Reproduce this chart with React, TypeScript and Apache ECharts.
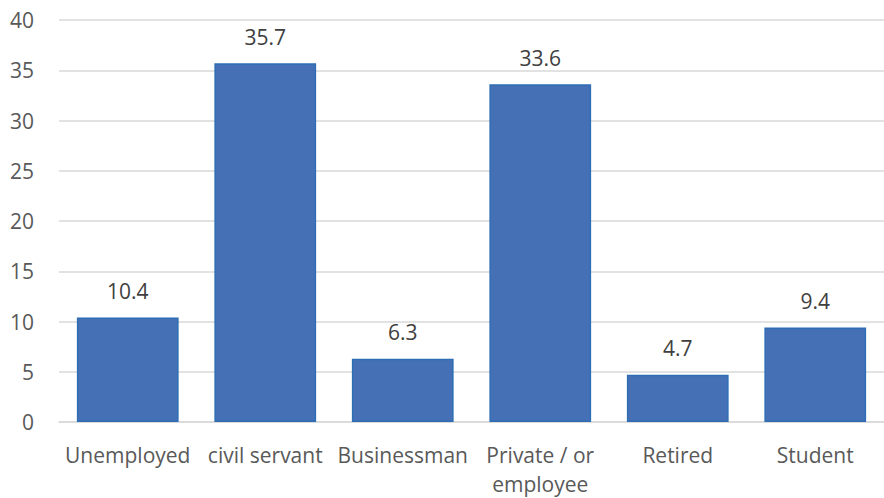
import React, { useEffect, useRef } from "react";
import * as echarts from "echarts";

const categories = ["Unemployed", "civil servant", "Businessman", "Private / or\nemployee", "Retired", "Student"];
const values = [10.4, 35.7, 6.3, 33.6, 4.7, 9.4];
const yTicks = { min: 0, max: 40, interval: 5 };

export default function App() {
  const ref = useRef<HTMLDivElement>(null);
  useEffect(() => {
    if (!ref.current) return;
    const chart = echarts.init(ref.current, undefined, { renderer: "svg" });
    const font = "'Open Sans', 'Noto Sans', sans-serif";
    chart.setOption({
      animation: false,
      grid: { left: 59, right: 0, top: 20, bottom: 74 },
      xAxis: {
        type: "category",
        data: categories,
        axisLine: { show: true, lineStyle: { color: "#d9d9d9", width: 1.5 } },
        axisTick: { show: false },
        axisLabel: { color: "#595959", fontSize: 21, fontFamily: font, margin: 18, lineHeight: 29, interval: 0 },
      },
      yAxis: {
        type: "value",
        min: yTicks.min,
        max: yTicks.max,
        interval: yTicks.interval,
        axisLine: { show: false },
        axisTick: { show: false },
        splitLine: { lineStyle: { color: "#d9d9d9", width: 1.5 } },
        axisLabel: { color: "#595959", fontSize: 21, fontFamily: font, margin: 25 },
      },
      series: [
        {
          type: "bar",
          data: values,
          barCategoryGap: "26%",
          itemStyle: { color: "#4670B5", borderColor: "#2E6DB4", borderWidth: 1.5 },
          label: {
            show: true,
            position: "top",
            distance: 16,
            color: "#404040",
            fontSize: 21,
            fontFamily: font,
            formatter: (p: any) => p.value.toFixed(1),
          },
        },
      ],
    });
    return () => chart.dispose();
  }, []);
  return (
    <div
      ref={ref}
      style={{ position: "absolute", left: 0, top: 0, width: 884, height: 498 }}
    />
  );
}
